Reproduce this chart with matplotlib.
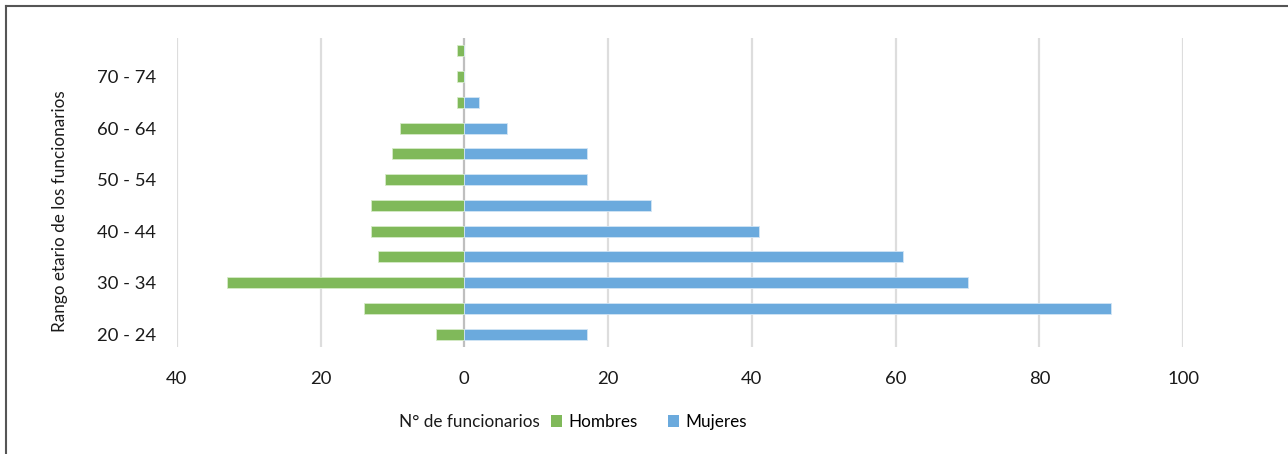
import matplotlib
matplotlib.use("Agg")
import matplotlib.pyplot as plt
from matplotlib.lines import Line2D
from matplotlib.patches import Patch
from matplotlib.ticker import FuncFormatter

plt.rcParams["font.family"] = ["Lato", "DejaVu Sans"]

# age bands, bottom to top
age_bands = ["20 - 24", "25 - 29", "30 - 34", "35 - 39", "40 - 44", "45 - 49",
             "50 - 54", "55 - 59", "60 - 64", "65 - 69", "70 - 74", "75 - 79"]
hombres = [4, 14, 33, 12, 13, 13, 11, 10, 9, 1, 1, 1]
mujeres = [17, 90, 70, 61, 41, 26, 17, 17, 6, 2, 0, 0]
x_ticks = [-40, -20, 0, 20, 40, 60, 80, 100]

GREEN = "#80b95a"
BLUE = "#6baadd"

fig = plt.figure(figsize=(12.88, 4.54), dpi=100)
ax = fig.add_axes([0.1372, 0.2357, 0.9187 - 0.1372, 0.9163 - 0.2357])

pos = range(len(age_bands))
ax.barh(pos, [-h for h in hombres], height=0.42, color=GREEN,
        edgecolor="#d6ebc8", linewidth=0.6, zorder=3)
ax.barh(pos, mujeres, height=0.42, color=BLUE,
        edgecolor="#d2e5f5", linewidth=0.6, zorder=3)

ax.set_xlim(-40, 100)
ax.set_ylim(-0.5, len(age_bands) - 0.5)
ax.set_xticks(x_ticks)
ax.xaxis.set_major_formatter(FuncFormatter(lambda v, _: f"{abs(int(v))}"))
ax.set_yticks(list(pos)[::2])
ax.set_yticklabels(age_bands[::2])
ax.tick_params(axis="both", length=0, labelsize=13.3, colors="#1a1a1a")
ax.tick_params(axis="x", pad=17)
ax.tick_params(axis="y", pad=15)

for v in x_ticks:
    ax.axvline(v, color="#bfbfbf" if v == 0 else "#dddddd", lw=1.6, zorder=1)
for s in ax.spines.values():
    s.set_visible(False)

fig.text(60 / 1288, 1 - 211 / 454, "Rango etario de los funcionarios", rotation=90,
         ha="center", va="center", fontsize=12.3, color="#1a1a1a")

# legend row: axis title followed by the two series
ly = 1 - 422 / 454
fig.text(399 / 1288, ly, "N° de funcionarios", ha="left", va="center",
         fontsize=12.3, color="#1a1a1a")
handles = [Patch(facecolor=GREEN), Patch(facecolor=BLUE)]
fig.legend(handles, ["Hombres", "Mujeres"], loc="center left",
           bbox_to_anchor=(551 / 1288, ly), ncol=2, frameon=False,
           fontsize=12.3, handlelength=0.65, handleheight=0.65,
           handletextpad=0.35, columnspacing=1.8, borderpad=0, borderaxespad=0)

# outer frame, only top and left edges show
fig.add_artist(Line2D([5.5 / 1288, 1], [1 - 5.5 / 454] * 2, color="#555555", lw=1.5))
fig.add_artist(Line2D([5.5 / 1288] * 2, [0, 1 - 5.5 / 454], color="#555555", lw=1.5))

fig.savefig("out.png", dpi=100)
